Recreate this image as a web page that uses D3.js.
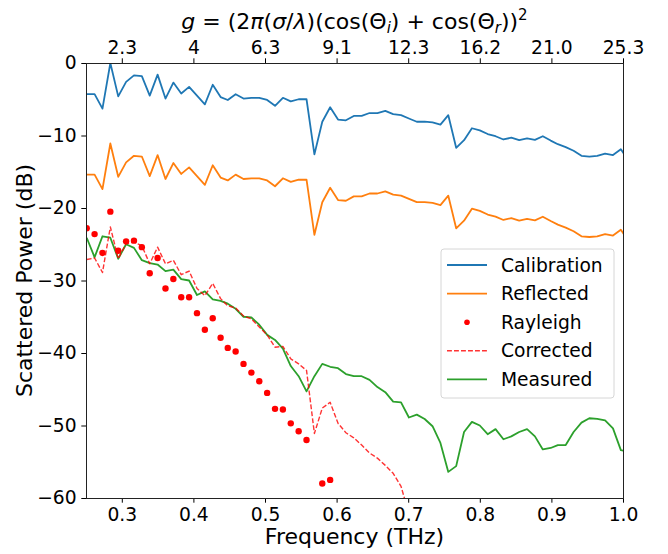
<!DOCTYPE html>
<html>
<head>
<meta charset="utf-8">
<script src="https://cdn.jsdelivr.net/npm/d3@7"></script>
<style>
  body { margin: 0; background: #fff; }
  text { font-family: "DejaVu Sans", sans-serif; }
</style>
</head>
<body>
<div id="chart"></div>
<script>
// frequency bins (THz)
const frequency = [
  0.251, 0.262, 0.273, 0.284, 0.295, 0.306, 0.317, 0.328, 0.339, 0.350,
  0.361, 0.372, 0.383, 0.394, 0.405, 0.416, 0.427, 0.438, 0.448, 0.459,
  0.470, 0.481, 0.492, 0.503, 0.514, 0.525, 0.536, 0.547, 0.558, 0.569,
  0.580, 0.591, 0.602, 0.613, 0.624, 0.635, 0.646, 0.657, 0.668, 0.679,
  0.690, 0.701, 0.712, 0.723, 0.734, 0.745, 0.756, 0.767, 0.778, 0.789,
  0.800, 0.811, 0.822, 0.833, 0.844, 0.855, 0.866, 0.877, 0.888, 0.899,
  0.909, 0.920, 0.931, 0.942, 0.953, 0.964, 0.975, 0.986, 0.997, 1.008
];

const calibration = [
  -4.3, -4.3, -6.3, 0.0, -4.6, -2.6, -1.7, -1.8, -4.5, -1.6,
  -4.9, -2.7, -4.2, -3.3, -4.5, -5.7, -3.0, -4.7, -5.1, -4.3,
  -4.9, -4.8, -4.8, -5.1, -5.9, -4.8, -5.3, -5.0, -5.0, -12.6,
  -8.1, -6.1, -7.8, -7.9, -7.3, -7.3, -6.9, -6.9, -6.6, -7.05,
  -7.2, -7.65, -8.1, -8.1, -8.2, -8.5, -7.2, -11.7, -10.65, -9.0,
  -9.3, -9.8, -10.1, -10.55, -10.3, -10.65, -10.4, -10.6, -10.1, -10.7,
  -11.2, -11.6, -12.1, -12.8, -12.9, -12.8, -12.5, -12.7, -11.9, -13.5
];

const reflected = [
  -15.4, -15.4, -17.4, -11.1, -15.7, -13.7, -12.8, -12.9, -15.6, -12.7,
  -16.0, -13.8, -15.3, -14.4, -15.6, -16.8, -14.1, -15.8, -16.2, -15.4,
  -16.0, -15.9, -15.9, -16.2, -17.0, -15.9, -16.4, -16.1, -16.1, -23.7,
  -19.2, -17.2, -18.9, -19.0, -18.4, -18.4, -18.0, -18.0, -17.7, -18.15,
  -18.3, -18.75, -19.2, -19.2, -19.3, -19.6, -18.3, -22.8, -21.75, -20.1,
  -20.4, -20.9, -21.2, -21.65, -21.4, -21.75, -21.5, -21.7, -21.2, -21.8,
  -22.3, -22.7, -23.2, -23.9, -24.0, -23.9, -23.6, -23.8, -23.0, -24.6
];

// null = below the visible range
const rayleigh = [
  -22.8, -23.6, -26.2, -20.5, -25.9, -24.6, -24.5, -25.4, -29.0, -26.9,
  -31.1, -29.8, -32.3, -32.3, -34.5, -36.8, -35.2, -37.9, -39.3, -39.8,
  -41.5, -42.7, -43.9, -45.5, -47.7, -47.8, -49.7, -50.8, -52.0, null,
  -58.0, -57.5
];

const corrected = [
  -27.1, -26.9, -28.9, -22.6, -27.0, -24.9, -24.7, -25.2, -27.7, -25.4,
  -27.7, -27.2, -29.2, -28.7, -31.1, -32.1, -30.4, -32.5, -33.5, -33.8,
  -34.9, -35.3, -36.4, -37.5, -39.2, -39.1, -40.8, -41.5, -42.4, -51.1,
  -47.6, -46.8, -49.7, -51.0, -51.7, -52.7, -53.8, -54.5, -55.5, -56.6,
  -58.4, -62.2
];

const measured = [
  -24.1, -26.8, -23.9, -24.1, -27.0, -25.0, -25.5, -27.2, -27.6, -27.8,
  -28.7, -28.5, -29.8, -30.0, -32.0, -31.5, -32.6, -32.8, -33.2, -33.9,
  -35.0, -35.1, -36.1, -37.5, -38.2, -39.4, -41.8, -43.2, -45.3, -43.2,
  -41.5, -41.9, -42.1, -42.9, -43.2, -43.2, -43.7, -44.7, -45.4, -46.7,
  -46.8, -48.9, -48.5, -49.1, -50.1, -52.4, -56.4, -55.6, -50.9, -49.5,
  -50.0, -51.2, -50.5, -51.9, -51.5, -50.9, -50.5, -51.5, -53.3, -53.1,
  -52.7, -52.7, -50.9, -49.6, -49.0, -49.1, -49.3, -50.4, -53.4, -53.6
];

const freqTicks = [0.3, 0.4, 0.5, 0.6, 0.7, 0.8, 0.9, 1.0];
const gTickLabels = ['2.3', '4', '6.3', '9.1', '12.3', '16.2', '21.0', '25.3'];
const powerTicks = [0, -10, -20, -30, -40, -50, -60];
const seriesNames = ['Calibration', 'Reflected', 'Rayleigh', 'Corrected', 'Measured'];

class ScatteringChart {

  constructor(_config) {
    this.config = {
      parentElement: _config.parentElement,
      containerWidth: _config.containerWidth || 668,
      containerHeight: _config.containerHeight || 554,
      margin: _config.margin || { top: 63, right: 45, bottom: 56, left: 86 },
      tickSize: 18.7,
      labelSize: 22
    };
    this.initVis();
  }

  initVis() {
    const vis = this;
    const m = vis.config.margin;

    vis.width = vis.config.containerWidth - m.left - m.right;
    vis.height = vis.config.containerHeight - m.top - m.bottom;

    vis.svg = d3.select(vis.config.parentElement).append('svg')
      .attr('width', vis.config.containerWidth)
      .attr('height', vis.config.containerHeight);

    vis.chart = vis.svg.append('g')
      .attr('transform', `translate(${m.left},${m.top})`);

    vis.svg.append('defs').append('clipPath')
      .attr('id', 'plot-clip')
      .append('rect')
      .attr('width', vis.width)
      .attr('height', vis.height);

    vis.xScale = d3.scaleLinear().domain([0.25, 1.0]).range([0, vis.width]);
    vis.yScale = d3.scaleLinear().domain([-60, 0]).range([vis.height, 0]);

    vis.colour = d3.scaleOrdinal()
      .domain(seriesNames)
      .range(['#1f77b4', '#ff7f0e', '#ff0000', '#ff0000', '#2ca02c']);
  }

  renderVis() {
    const vis = this;

    const series = [
      { name: 'Calibration', values: calibration },
      { name: 'Reflected', values: reflected },
      { name: 'Measured', values: measured },
      { name: 'Corrected', values: corrected, dashed: true }
    ];

    const line = d3.line()
      .defined(d => d[1] != null)
      .x(d => vis.xScale(d[0]))
      .y(d => vis.yScale(d[1]));

    const plot = vis.chart.append('g').attr('clip-path', 'url(#plot-clip)');

    plot.selectAll('.series')
      .data(series)
      .join('path')
      .attr('class', 'series')
      .attr('fill', 'none')
      .attr('stroke', d => vis.colour(d.name))
      .attr('stroke-width', d => d.dashed ? 1.4 : 1.8)
      .attr('stroke-dasharray', d => d.dashed ? '4.9,2.1' : null)
      .attr('stroke-opacity', d => d.dashed ? 0.8 : 1)
      .attr('stroke-linejoin', 'round')
      .attr('d', d => line(d.values.map((v, i) => [frequency[i], v])));

    plot.selectAll('.dot')
      .data(rayleigh.map((v, i) => [frequency[i], v]).filter(d => d[1] != null))
      .join('circle')
      .attr('class', 'dot')
      .attr('cx', d => vis.xScale(d[0]))
      .attr('cy', d => vis.yScale(d[1]))
      .attr('r', 3.2)
      .attr('fill', vis.colour('Rayleigh'));

    // axes
    const xAxis = d3.axisBottom(vis.xScale)
      .tickValues(freqTicks).tickFormat(d3.format('.1f'))
      .tickSize(4.7).tickPadding(4.7).tickSizeOuter(0);
    const topAxis = d3.axisTop(vis.xScale)
      .tickValues(freqTicks).tickFormat((d, i) => gTickLabels[i])
      .tickSize(4.7).tickPadding(4.7).tickSizeOuter(0);
    const yAxis = d3.axisLeft(vis.yScale)
      .tickValues(powerTicks).tickFormat(d3.format('d'))
      .tickSize(4.7).tickPadding(4.7).tickSizeOuter(0);

    const gx = vis.chart.append('g')
      .attr('transform', `translate(0,${vis.height})`).call(xAxis);
    const gt = vis.chart.append('g').call(topAxis);
    const gy = vis.chart.append('g').call(yAxis);

    [gx, gt, gy].forEach(g => {
      g.select('.domain').remove();
      g.selectAll('.tick line').attr('stroke', '#000').attr('stroke-width', 1);
      g.selectAll('.tick text')
        .attr('fill', '#000')
        .style('font-family', '"DejaVu Sans", sans-serif')
        .style('font-size', vis.config.tickSize + 'px');
    });

    vis.chart.append('rect')
      .attr('width', vis.width)
      .attr('height', vis.height)
      .attr('fill', 'none')
      .attr('stroke', '#222')
      .attr('stroke-width', 1)
      .attr('shape-rendering', 'crispEdges');

    // axis labels
    vis.chart.append('text')
      .attr('x', vis.width / 2)
      .attr('y', vis.height + 46)
      .attr('text-anchor', 'middle')
      .style('font-size', vis.config.labelSize + 'px')
      .text('Frequency (THz)');

    vis.svg.append('text')
      .attr('transform', `translate(31.5,${vis.config.margin.top + vis.height / 2}) rotate(-90)`)
      .attr('text-anchor', 'middle')
      .style('font-size', vis.config.labelSize + 'px')
      .text('Scattered Power (dB)');

    const title = vis.svg.append('text')
      .attr('x', vis.config.margin.left + vis.width / 2)
      .attr('y', 28.8)
      .attr('text-anchor', 'middle')
      .style('font-size', vis.config.labelSize + 'px');
    title.append('tspan').style('font-style', 'italic').text('g');
    title.append('tspan').text(' = (2');
    title.append('tspan').style('font-style', 'italic').text('π');
    title.append('tspan').text('(');
    title.append('tspan').style('font-style', 'italic').text('σ');
    title.append('tspan').text('/');
    title.append('tspan').style('font-style', 'italic').text('λ');
    title.append('tspan').text(')(cos(Θ');
    title.append('tspan').attr('dy', 4).style('font-style', 'italic').style('font-size', '15px').text('i');
    title.append('tspan').attr('dy', -4).text(') + cos(Θ');
    title.append('tspan').attr('dy', 4).style('font-style', 'italic').style('font-size', '15px').text('r');
    title.append('tspan').attr('dy', -4).text('))');
    title.append('tspan').attr('dy', -9).style('font-size', '15px').text('2');

    // legend
    const lg = vis.svg.append('g').attr('transform', 'translate(441,249)');
    lg.append('rect')
      .attr('width', 173)
      .attr('height', 149)
      .attr('rx', 3)
      .attr('fill', '#fff')
      .attr('fill-opacity', 0.8)
      .attr('stroke', '#d6d6d6');

    const item = lg.selectAll('.legend-item')
      .data(seriesNames)
      .join('g')
      .attr('class', 'legend-item')
      .attr('transform', (d, i) => `translate(0,${16 + i * 28.6})`);

    item.filter(d => d !== 'Rayleigh').append('line')
      .attr('x1', 6).attr('x2', 46)
      .attr('stroke', d => vis.colour(d))
      .attr('stroke-width', d => d === 'Corrected' ? 1.4 : 1.8)
      .attr('stroke-opacity', d => d === 'Corrected' ? 0.8 : 1)
      .attr('stroke-dasharray', d => d === 'Corrected' ? '4.9,2.1' : null);

    item.filter(d => d === 'Rayleigh').append('circle')
      .attr('cx', 26).attr('r', 2.8)
      .attr('fill', d => vis.colour(d));

    item.append('text')
      .attr('x', 60)
      .attr('dy', '0.35em')
      .style('font-size', vis.config.tickSize + 'px')
      .text(d => d);
  }
}

const chart = new ScatteringChart({ parentElement: '#chart' });
chart.renderVis();
</script>
</body>
</html>
